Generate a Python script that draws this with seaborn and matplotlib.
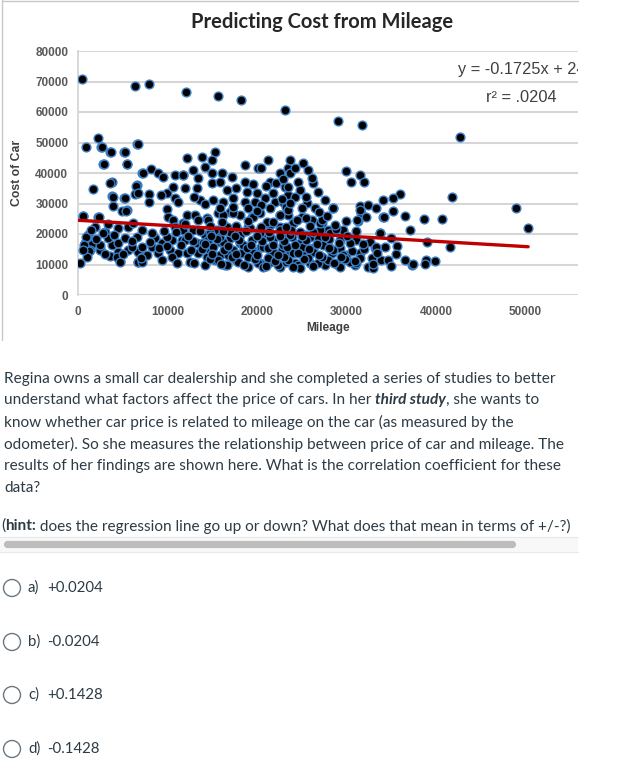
import numpy as np
import pandas as pd
import seaborn as sns
import matplotlib.pyplot as plt
from matplotlib.lines import Line2D
from matplotlib.patches import Ellipse, Rectangle

# scatter values, grouped by region
# high-priced outliers
out_x = [500, 6400, 7900, 12100, 15600, 18200, 23100, 29100, 31700, 42700]
out_y = [70800, 68500, 69200, 66500, 65300, 64000, 60700, 57100, 55700, 51900]

# sparse right side
right_x = [41800, 48900, 50300, 38700, 40700, 41600, 39900, 38900, 39000, 37100, 37300, 36500,
           36000, 35200, 34100, 35200, 34100, 33700, 35600, 35500, 36500, 37400, 38800, 35000]
right_y = [32200, 28600, 22000, 25000, 25000, 15700, 11200, 11500, 17400, 21300, 9800, 25900,
           33100, 31800, 31200, 27600, 25600, 20300, 16100, 13500, 11500, 10200, 10300, 18600]

# band around 30000-35000 miles
band_x = [30000, 30500, 31500, 32000, 31500, 32400, 31600, 31300, 31100, 34200, 33700,
          32600, 33200, 34300, 32800, 33900, 34600, 31500, 30900, 32400, 31200]
band_y = [40700, 37100, 39400, 37100, 29200, 29500, 26900, 24300, 21000, 25700, 20200,
          17500, 15300, 15900, 12000, 11500, 11500, 13700, 9900, 9300, 24600]

# left part (0-12000 miles)
left_x = [2200, 855, 2570, 3570, 5170, 6620, 2830, 5430, 7100, 8150, 8970, 9520, 3830, 1710,
          6550, 10800, 11750, 3760, 5170, 6360, 7920, 7920, 9900, 9260, 10640, 10800, 11200,
          3940, 4870, 5430, 9900, 10080, 10640, 595, 2270, 4500, 5620, 3010, 1900, 1150, 780,
          1525, 2455, 3760, 4500, 5245, 6550, 7100, 8600, 9340, 10450, 11570, 1340, 2455, 3570,
          4500, 5620, 6730, 7100, 8220, 8970, 10270, 11200, 223, 4690, 6730, 7100, 9340, 10450,
          11010, 3385, 970, 5990, 7660, 9900, 10800, 11750,
          2680, 2900, 560, 2350, 890, 670, 1230, 2460, 2800, 3570, 3930, 3680, 5250, 5470, 5250,
          5360, 6690, 6460, 6690, 4320, 4650, 6690, 7130, 7280]
left_y = [51400, 48400, 48400, 46800, 47000, 49400, 43000, 43000, 40100, 41300, 39900, 38800,
          37200, 34800, 36100, 39400, 39400, 32300, 31900, 33100, 33100, 30600, 33400, 32800,
          35500, 31700, 30600, 29200, 27700, 27900, 28100, 25500, 24600, 26000, 25700, 22100,
          22400, 20800, 22400, 19700, 17000, 16750, 15500, 16400, 17200, 18600, 19150, 21300,
          18600, 17000, 18050, 18050, 14800, 14800, 12800, 14200, 14800, 14200, 15900, 15900,
          13700, 14800, 13700, 10600, 11300, 10950, 12600, 11500, 12600, 10400, 18600, 19150,
          15900, 13100, 19150, 22400, 23500,
          48500, 42900, 26000, 25600, 19000, 16400, 14400, 16400, 20300, 36800, 32100, 46900,
          46900, 42900, 31900, 27600, 49600, 35800, 33400, 12500, 10900, 10900, 10900, 40000]

# middle part (12000-24000 miles)
mid_x = [12130, 13810, 15300, 14920, 14180, 12880, 11760, 13440, 14920, 16040, 17160, 18640,
         20130, 21250, 20500, 22550, 23480, 11950, 13250, 14920, 15850, 16600, 17710, 18640,
         18830, 19950, 21430, 22180, 23110, 23480, 13620, 15110, 16230, 17340, 18640, 19760,
         20880, 21990, 22920, 23290, 12130, 13060, 14370, 15670, 16970, 18090, 19390, 20320,
         21430, 22550, 23480, 11760, 12880, 14180, 15480, 16600, 17900, 19020, 20320, 21430,
         22550, 11950, 13250, 14550, 15850, 16970, 18090, 19390, 20690, 21810, 22920, 12130,
         13440, 14740, 15850, 16970, 18270, 19390, 20500, 21620, 22740, 23480, 12510, 14180,
         15300, 16410, 17710, 19020, 20320, 21430, 22550, 23290]
mid_y = [44830, 45380, 47020, 44280, 42100, 41000, 39370, 38270, 39910, 39910, 38820, 42640,
         41550, 44280, 41550, 39910, 41550, 35000, 35000, 36630, 37180, 34450, 35000, 37180,
         33900, 33350, 37180, 36630, 35540, 32810, 31170, 31170, 30620, 31710, 30620, 30620,
         31710, 30620, 30620, 28980, 26250, 26250, 25160, 26800, 27340, 26250, 25700, 26800,
         28430, 26250, 26250, 21330, 21330, 19690, 21330, 22420, 21330, 22420, 21330, 22970,
         22420, 18050, 16960, 18050, 17510, 18600, 16960, 18050, 19150, 18050, 18600, 13680,
         13680, 14230, 13130, 14770, 13680, 14770, 15870, 14230, 14770, 13130, 10950, 9850,
         11490, 9850, 11490, 9310, 10400, 10950, 9310, 10950]

# 23000-30000 miles
east_x = [23680, 25170, 25720, 23680, 24610, 26280, 26840, 27580, 28510, 23490, 24240, 25540,
          26470, 23490, 24980, 24050, 26100, 27210, 27960, 29630, 23860, 25350, 26840, 24790,
          26280, 27960, 29260, 23680, 25170, 27030, 28330, 30000, 24240, 25910, 27580, 29260]
east_y = [44280, 43190, 41000, 39910, 37180, 36630, 33900, 31170, 28430, 35540, 32260, 30070,
          28430, 27890, 25700, 23520, 24610, 23520, 21330, 21330, 19150, 19690, 18600, 16960,
          15320, 16410, 15320, 14230, 13130, 12590, 13680, 13130, 10400, 10400, 9850, 10950]

# dense low-price cluster
dense_x = [14000, 15120, 16230, 17350, 18470, 19580, 20700, 21810, 22930, 24050, 25160, 26280,
           27390, 28510, 29630, 14370, 15680, 16790, 17910, 19020, 20140, 21260, 22370, 23490,
           24600, 25720, 26840, 27950, 29070, 30370, 31490, 32970, 14750, 15860, 16980, 18090,
           19210, 20330, 21440, 22560, 23670, 24790, 25910, 27020, 28140, 29250, 31110, 33350,
           14560, 16230, 17350, 19580, 21070, 22560, 24050, 25530, 27020, 28510, 31490, 32230,
           33350, 16610, 20700, 24790, 29250, 31110]
dense_y = [16950, 15860, 17500, 14770, 16400, 13670, 15860, 14220, 16400, 13670, 15860, 14220,
           16400, 14770, 13130, 12580, 11490, 13130, 10940, 12580, 10390, 12030, 9850, 11490,
           9850, 12030, 10390, 11490, 9850, 10940, 12030, 8750, 20230, 19140, 20780, 19680,
           21870, 20230, 19140, 21320, 19680, 20780, 19140, 21320, 20230, 18040, 18040, 15860,
           24600, 26240, 26790, 25700, 24060, 26240, 23510, 25150, 23510, 28430, 27880, 25700,
           28430, 9850, 9300, 8750, 9300, 10390]

# more points inside the crowded areas
fill_x = [13000, 14800, 16000, 17200, 18600, 19800, 21000, 22000, 23000, 24000, 25300, 26300,
          27300, 28600, 29800, 31000, 33000, 35000,
          12600, 13800, 15000, 16300, 17600, 18900, 20000, 21200, 22400, 23400, 24600, 25800,
          26900, 28100, 29400, 30600, 32000, 33400,
          11500, 12800, 14200, 15500, 16800, 18000, 19300, 20600, 21800, 23000, 24200, 25500,
          26700, 28000, 29200, 30400, 31800,
          11000, 12300, 13600, 14900, 16200, 17500, 18800, 20000, 21300, 22600, 23800, 25000,
          26300, 27600, 28800, 30100,
          12000, 13400, 14700, 16100, 17600, 19000, 20400, 21800, 23200, 24500, 25900, 27300,
          28700, 30000,
          1000, 2000, 3000, 4000, 5000, 6000, 7000, 8000, 9000, 10000, 1500, 3300, 6200, 8300,
          9600, 600,
          19000, 20500, 21800, 22800, 23700, 24800, 25500, 26200, 24200, 22900, 21000, 20000,
          26900, 27800, 25000, 19500, 17300, 15900, 14200, 13000]
fill_y = [10500, 11800, 10200, 12300, 9700, 11700, 9500, 11000, 12300, 9300, 11700, 9600,
          12600, 10400, 11900, 11200, 10200, 9600,
          14600, 15100, 13600, 14900, 13400, 15300, 13200, 15500, 13000, 15600, 13800, 15000,
          13200, 15400, 12600, 14400, 15200, 13800,
          16500, 17800, 16600, 18300, 16200, 17900, 16500, 17800, 16300, 17800, 16500, 17900,
          16600, 18400, 16900, 17000, 16800,
          20500, 19400, 21000, 19300, 20900, 19300, 20900, 19200, 20700, 19400, 21200, 19300,
          20600, 19000, 21700, 19500,
          23200, 24500, 22600, 24000, 22500, 24100, 22300, 23900, 22300, 24600, 22700, 24700,
          23000, 24300,
          12500, 18200, 13400, 19800, 13300, 17800, 12000, 17500, 15300, 16200, 21200, 23400,
          23700, 20400, 21000, 14700,
          28500, 29500, 33600, 31500, 30300, 34400, 32200, 38500, 41500, 38100, 35600, 27700,
          27200, 25900, 28600, 36400, 29000, 28600, 29900, 32000]

slope = -0.1725
intercept = 24500
equation = "y = -0.1725x + 24500"
r2_text = "r\u00b2 = .0204"

question_lines = [
    [("Regina owns a small car dealership and she completed a series of studies to better", "normal", "normal")],
    [("understand what factors affect the price of cars. In her ", "normal", "normal"),
     ("third study", "bold", "italic"), (", she wants to", "normal", "normal")],
    [("know whether car price is related to mileage on the car (as measured by the", "normal", "normal")],
    [("odometer). So she measures the relationship between price of car and mileage. The", "normal", "normal")],
    [("results of her findings are shown here. What is the correlation coefficient for these", "normal", "normal")],
    [("data?", "normal", "normal")],
]
hint_line = [("(", "normal", "normal"), ("hint:", "bold", "normal"),
             (" does the regression line go up or down? What does that mean in terms of +/-?)", "normal", "normal")]
option_letters = ["a)", "b)", "c)", "d)"]
option_values = ["+0.0204", "-0.0204", "+0.1428", "-0.1428"]

df = pd.DataFrame({
    "Mileage": out_x + right_x + band_x + left_x + mid_x + east_x + dense_x + fill_x,
    "Cost": out_y + right_y + band_y + left_y + mid_y + east_y + dense_y + fill_y,
})

sns.set_style("white")
plt.rcParams['font.family'] = ['Liberation Sans', 'DejaVu Sans']

W, H = 639, 781
fig = plt.figure(figsize=(W / 100, H / 100), dpi=100)


def fx(x):
    return x / W


def fy(y):
    return 1 - y / H


# chart area
ax = fig.add_axes([fx(78), fy(295), (578 - 78) / W, (295 - 51) / H])
sns.scatterplot(data=df, x="Mileage", y="Cost", ax=ax, s=40, color="black",
                edgecolor="#3a7fc6", linewidth=1.0, zorder=3, legend=False)
fit_x = np.array([0, df["Mileage"].max()])
ax.plot(fit_x, slope * fit_x + intercept, color="#c00000", lw=2.4, zorder=4)

ax.set_xlim(0, 55870)
ax.set_ylim(0, 80000)
ax.set_xticks(range(0, 50001, 10000))
ax.set_yticks(range(0, 80001, 10000))
ax.grid(axis="y", color="#d6d6d6", lw=1.5, zorder=0)
ax.set_axisbelow(True)
for s in ["top", "right", "bottom"]:
    ax.spines[s].set_visible(False)
ax.spines["left"].set_color("#d6d6d6")
ax.spines["left"].set_linewidth(1.3)
ax.tick_params(length=0, labelsize=8.5, labelcolor="#595959")
ax.tick_params(axis="x", pad=8)
ax.tick_params(axis="y", pad=7)
for lab in ax.get_xticklabels() + ax.get_yticklabels():
    lab.set_fontweight("bold")
ax.set_xlabel("Mileage", fontsize=8.5, fontweight="bold", color="#404040", labelpad=3)
ax.set_ylabel("Cost of Car", fontsize=8.8, fontweight="bold", color="#404040", labelpad=9)

ax.text(0.76, 73800, equation, transform=ax.get_yaxis_transform(), fontsize=11.8,
        color="#404040", va="center", clip_on=True)
ax.text(0.816, 64900, r2_text, transform=ax.get_yaxis_transform(), fontsize=11.8,
        color="#404040", va="center", clip_on=True)

fig.text(fx(322), fy(22), "Predicting Cost from Mileage", family="Lato", fontweight="bold",
         fontsize=14.5, ha="center", va="center", color="#262626")

# picture frame
fig.add_artist(Line2D([fx(2), fx(2)], [fy(0), fy(340)], color="#c8c8c8", lw=1))
fig.add_artist(Line2D([fx(2), fx(578)], [fy(0.5), fy(0.5)], color="#c8c8c8", lw=1))

# question text
renderer = fig.canvas.get_renderer()
txt_color = "#2d3b45"


def draw_runs(x, y, parts, size=11.05):
    for text, weight, style in parts:
        t = fig.text(fx(x), fy(y), text, family="Lato", fontsize=size, fontweight=weight,
                     fontstyle=style, color=txt_color, va="center", ha="left")
        x += t.get_window_extent(renderer).width


line_y = [379, 400, 422, 444, 466, 488]
for yy, parts in zip(line_y, question_lines):
    draw_runs(4, yy, parts)
draw_runs(1, 526, hint_line)

# scroll bar under the hint
fig.add_artist(Rectangle((fx(0), fy(552)), 578 / W, 15 / H, transform=fig.transFigure,
                         facecolor="#f8f8f8", edgecolor="none"))
fig.add_artist(Line2D([fx(0), fx(578)], [fy(537), fy(537)], color="#e8e8e8", lw=0.8))
fig.add_artist(Line2D([fx(0), fx(578)], [fy(552), fy(552)], color="#e8e8e8", lw=0.8))
fig.add_artist(Line2D([fx(7), fx(512)], [fy(544), fy(544)], color="#bdbdbd", lw=5.2,
                      solid_capstyle="round"))

# answer options
opt_y = [588, 642, 695, 749]
for yy, letter, val in zip(opt_y, option_letters, option_values):
    fig.add_artist(Ellipse((fx(12), fy(yy)), 17 / W, 17 / H, transform=fig.transFigure,
                           facecolor="white", edgecolor="#6b7780", lw=1))
    fig.text(fx(28), fy(yy), letter, family="Lato", fontsize=10.8, color=txt_color, va="center")
    fig.text(fx(47), fy(yy), val, family="Lato", fontsize=10.8, color=txt_color, va="center")

fig.savefig("out.png", dpi=100)
